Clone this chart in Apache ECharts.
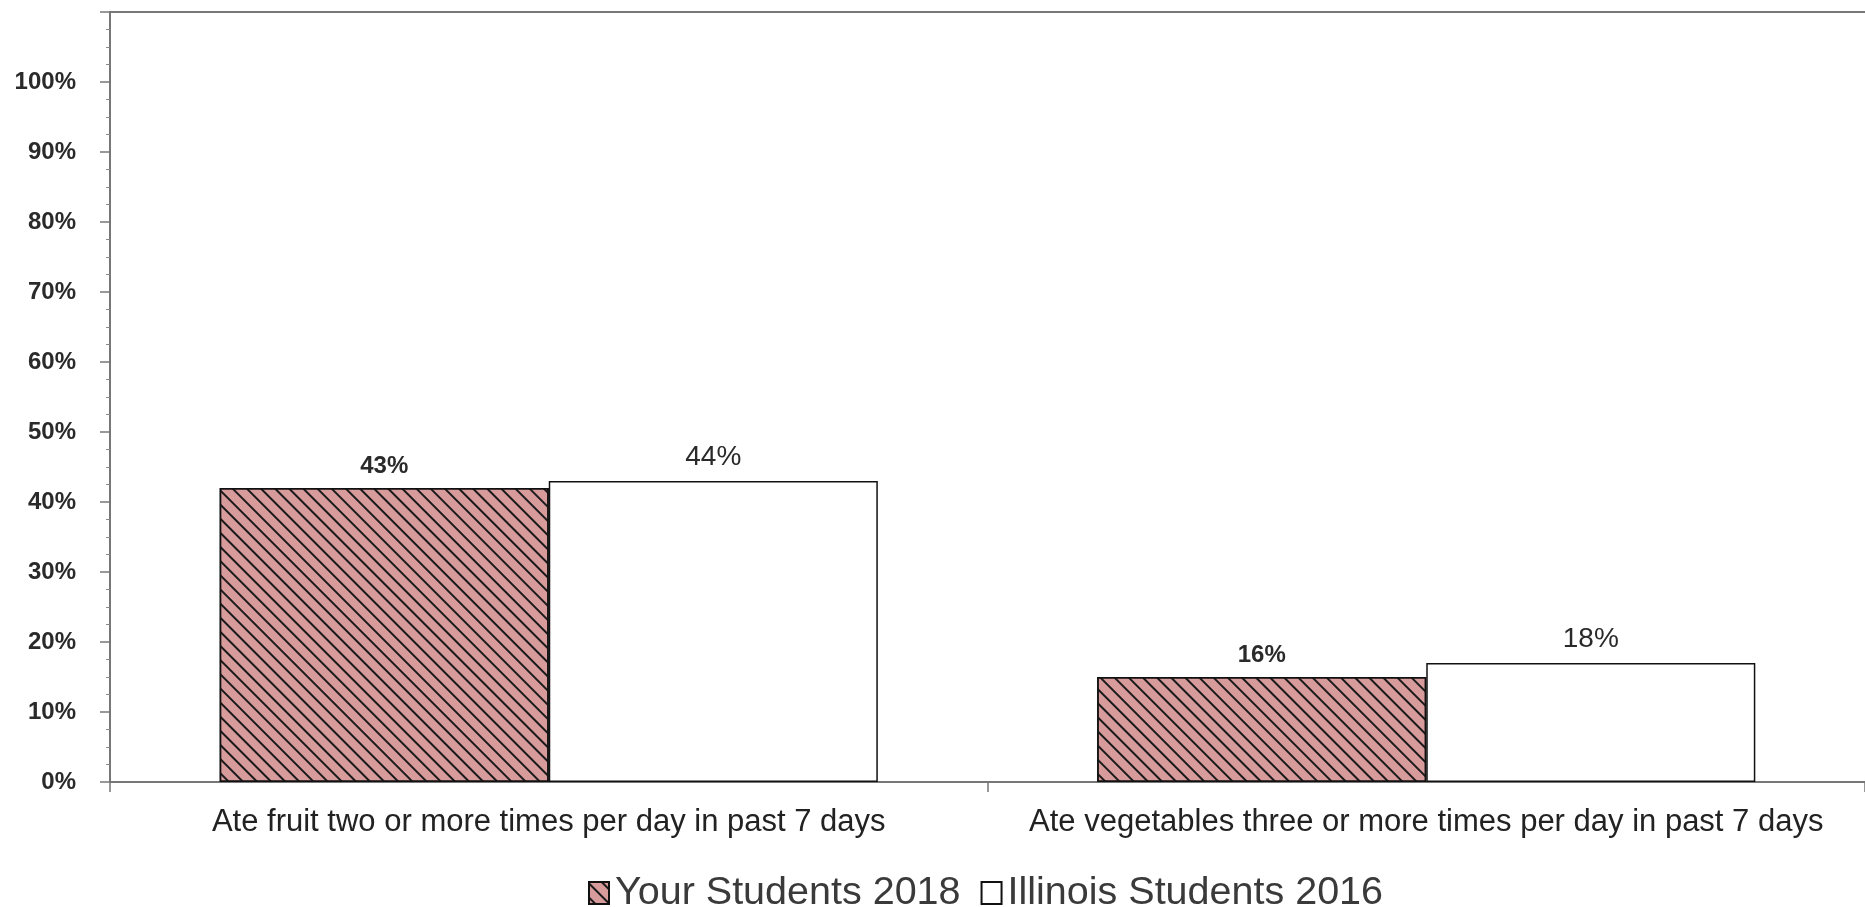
<!DOCTYPE html>
<html><head><meta charset="utf-8">
<script src="https://cdn.jsdelivr.net/npm/echarts@6/dist/echarts.min.js"></script>
<style>html,body{margin:0;padding:0;background:#fff}#c{width:1865px;height:907px}</style>
</head><body><div id="c"></div>
<script>
const categories = ['Ate fruit two or more times per day in past 7 days', 'Ate vegetables three or more times per day in past 7 days'];
const seriesNames = ['Your Students 2018', 'Illinois Students 2016'];
const yourValues = [42, 15];
const illinoisValues = [43, 17];
const yourLabels = ['43%', '16%'];
const illinoisLabels = ['44%', '18%'];
const yMax = 110;
const yInterval = 10;
const yLabelMax = 100;

const FONT = '"Liberation Sans", Arial, sans-serif';
const chart = echarts.init(document.getElementById('c'), null, {renderer: 'canvas'});
chart.setOption({
  animation: false,
  backgroundColor: '#fff',
  grid: {left: 110, right: 0, top: 12, bottom: 125, containLabel: false},
  legend: {
    left: 583, top: 868, icon: 'rect',
    itemWidth: 20, itemHeight: 22, itemGap: 20,
    textStyle: {fontFamily: FONT, fontSize: 39.5, color: '#3a3a3a', padding: [0, 0, 0, 1]},
    data: seriesNames
  },
  xAxis: [{
    type: 'category', data: categories, position: 'bottom',
    axisLine: {lineStyle: {color: '#777', width: 2}},
    axisTick: {show: true, length: 10, lineStyle: {color: '#777', width: 1.5}},
    axisLabel: {interval: 0, fontFamily: FONT, fontSize: 31, color: '#222', margin: 25, hideOverlap: false}
  }, {
    type: 'category', data: categories, position: 'top',
    axisLine: {show: true, lineStyle: {color: '#777', width: 2}},
    axisTick: {show: false}, axisLabel: {show: false}
  }],
  yAxis: {
    type: 'value', min: 0, max: yMax, interval: yInterval,
    axisLine: {show: true, lineStyle: {color: '#777', width: 2}},
    axisTick: {show: true, length: 10, lineStyle: {color: '#777', width: 1.5}},
    minorTick: {show: true, splitNumber: 4, length: 4, lineStyle: {color: '#888', width: 1}},
    splitLine: {show: false},
    axisLabel: {
      fontFamily: FONT, fontSize: 24, fontWeight: 'bold', color: '#2a2a2a', margin: 34,
      formatter: v => v > yLabelMax ? '' : v + '%'
    }
  },
  series: [{
    name: seriesNames[0], type: 'bar', xAxisIndex: 0, data: yourValues,
    barGap: '0%', barCategoryGap: '25%',
    itemStyle: {
      color: '#D89B9C', borderColor: '#111', borderWidth: 1.5,
      decal: {symbol: 'rect', symbolSize: 1, color: '#1a1a1a', dashArrayX: [[1, 0]], dashArrayY: [1.8, 7.4], rotation: Math.PI / 4}
    },
    label: {show: true, position: 'top', distance: 10, fontFamily: FONT, fontSize: 24, fontWeight: 'bold', color: '#2a2a2a',
      formatter: p => yourLabels[p.dataIndex]}
  }, {
    name: seriesNames[1], type: 'bar', xAxisIndex: 0, data: illinoisValues,
    barGap: '0%', barCategoryGap: '25%',
    itemStyle: {color: '#fff', borderColor: '#111', borderWidth: 1.5},
    label: {show: true, position: 'top', distance: 10, fontFamily: FONT, fontSize: 28, color: '#2a2a2a',
      formatter: p => illinoisLabels[p.dataIndex]}
  }]
});
</script></body></html>
